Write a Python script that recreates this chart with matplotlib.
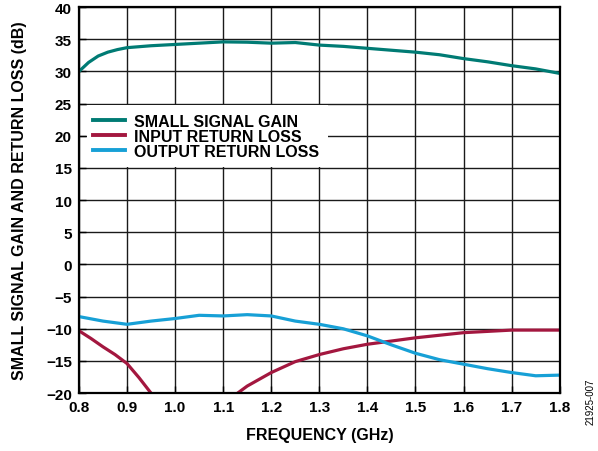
import matplotlib
matplotlib.use('Agg')
import matplotlib.pyplot as plt
from matplotlib.patches import Rectangle

plt.rcParams['font.family'] = ['Liberation Sans', 'DejaVu Sans']

# Kurven
gain_f = [0.80, 0.82, 0.84, 0.86, 0.88, 0.90, 0.95, 1.00, 1.05, 1.10, 1.15, 1.20, 1.25,
          1.30, 1.35, 1.40, 1.45, 1.50, 1.55, 1.60, 1.65, 1.70, 1.75, 1.80]
gain_db = [30.0, 31.4, 32.4, 33.0, 33.4, 33.7, 34.0, 34.2, 34.4, 34.6, 34.55, 34.4, 34.5,
           34.1, 33.9, 33.6, 33.3, 33.0, 32.6, 32.0, 31.5, 30.9, 30.4, 29.7]

in_f = [0.80, 0.825, 0.85, 0.875, 0.90, 0.925, 0.95, 0.975, 1.00, 1.05, 1.10, 1.13, 1.15,
        1.20, 1.25, 1.30, 1.35, 1.40, 1.45, 1.50, 1.55, 1.60, 1.65, 1.70, 1.75, 1.80]
in_db = [-10.3, -11.5, -12.8, -14.0, -15.4, -17.6, -20.0, -22.5, -25.0, -27.0, -23.0, -20.0, -18.9,
         -16.8, -15.1, -14.0, -13.1, -12.4, -11.9, -11.4, -11.0, -10.6, -10.4, -10.2, -10.2, -10.2]

out_f = [0.80, 0.85, 0.90, 0.95, 1.00, 1.05, 1.10, 1.15, 1.20, 1.25, 1.30, 1.35, 1.40,
         1.45, 1.50, 1.55, 1.60, 1.65, 1.70, 1.75, 1.80]
out_db = [-8.1, -8.8, -9.3, -8.8, -8.4, -7.9, -8.0, -7.8, -8.0, -8.8, -9.3, -10.0, -11.1,
          -12.5, -13.8, -14.8, -15.5, -16.2, -16.8, -17.3, -17.2]

labels = ['SMALL SIGNAL GAIN', 'INPUT RETURN LOSS', 'OUTPUT RETURN LOSS']
colors = ['#007b74', '#a3173f', '#17a0d6']

fig = plt.figure(figsize=(5.98, 4.52), dpi=100)
ax = fig.add_axes([0.132, 0.128, 0.804, 0.854])

ax.plot(gain_f, gain_db, color=colors[0], lw=2.3, label=labels[0], zorder=3)
ax.plot(in_f, in_db, color=colors[1], lw=2.3, label=labels[1], zorder=3)
ax.plot(out_f, out_db, color=colors[2], lw=2.3, label=labels[2], zorder=3)

ax.set_xlim(0.8, 1.8)
ax.set_ylim(-20, 40)
ax.set_xticks([0.8 + 0.1 * i for i in range(11)])
ax.set_xticklabels(['%.1f' % (0.8 + 0.1 * i) for i in range(11)])
ax.set_yticks(range(-20, 41, 5))
ax.grid(True, color='#1a1a1a', lw=1.0)
ax.set_axisbelow(True)
ax.tick_params(direction='in', length=5, width=1.0, labelsize=11, pad=5)
for lab in ax.get_xticklabels() + ax.get_yticklabels():
    lab.set_fontweight('bold')
for sp in ax.spines.values():
    sp.set_linewidth(1.6)
    sp.set_zorder(4)

# weisser Kasten hinter der Legende
ax.add_patch(Rectangle((0.8 + 0.017, 15.15), 0.50, 9.7, facecolor='white',
                       edgecolor='none', zorder=1))
leg = ax.legend(loc='center left', bbox_to_anchor=(0.03, 0.665), frameon=False,
                handlelength=2.0, handletextpad=0.55, labelspacing=0.0,
                prop={'weight': 'bold', 'size': 11.5}, borderaxespad=0.0,
                borderpad=0.0)
leg.set_zorder(5)
for h in leg.get_lines():
    h.set_linewidth(2.8)

ax.set_xlabel('FREQUENCY (GHz)', fontsize=11.5, fontweight='bold', labelpad=9)
ax.set_ylabel('SMALL SIGNAL GAIN AND RETURN LOSS (dB)', fontsize=11.5,
              fontweight='bold', labelpad=14)

fig.text(0.987, 0.06, '21925-007', rotation=90, fontsize=7, ha='center', va='bottom')

fig.savefig('out.png', dpi=100)
